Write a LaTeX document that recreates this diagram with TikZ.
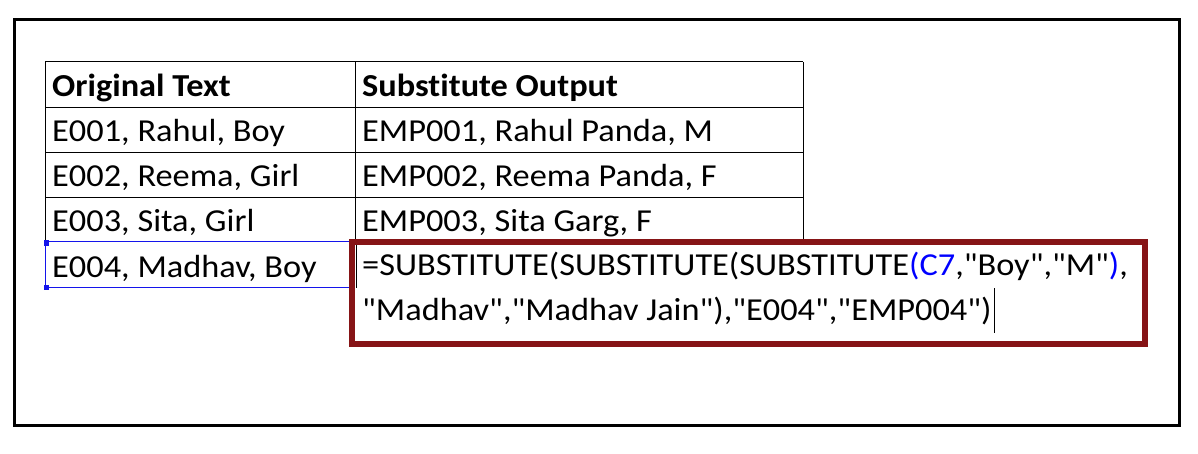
\documentclass[tikz,border=0pt]{standalone}
\usepackage{fontspec}
\newfontfamily\calfont{Carlito}[FakeStretch=1.073,Ligatures=CommonOff]
\definecolor{boxred}{RGB}{134,20,22}
\definecolor{selblue}{RGB}{20,20,235}
\begin{document}
\begin{tikzpicture}[x=1pt,y=-1pt,
  cell/.style={anchor=base west,inner sep=0pt,font=\calfont\fontsize{32}{38}\selectfont},
  head/.style={cell,font=\calfont\fontsize{32}{38}\selectfont\bfseries},
  grid/.style={line width=1pt,black},
  frame/.style={line width=3pt,black},
  redbox/.style={line width=6pt,boxred}]
\useasboundingbox (0,0) rectangle (1198,454);
\fill[white] (0,0) rectangle (1198,454);
% outer frame
\draw[frame] (14,20) rectangle (1179,425);
% table grid
\draw[grid] (45,62) -- (803,62);
\draw[grid] (45,108) -- (803,108);
\draw[grid] (45,153) -- (803,153);
\draw[grid] (45,198) -- (803,198);
\draw[grid] (45,62) -- (45,242);
\draw[grid] (355,62) -- (355,242);
\draw[grid] (803,62) -- (803,242);
\draw[grid] (356,245) -- (356,288);
% selection of E004 cell
\draw[line width=1pt,selblue] (45,242) -- (350,242);
\draw[line width=1pt,selblue] (45,287) -- (350,287);
\draw[line width=1pt,selblue] (45,242) -- (45,287);
\fill[selblue] (43.5,240.5) rectangle (48.5,245.5);
\fill[selblue] (43.5,284.5) rectangle (48.5,289.5);
% texts
\node[head] (h1) at (52,97) {Original Text};
\node[head] (h2) at (362,97) {Substitute Output};
\node[cell] (a1) at (52,142) {E001, Rahul, Boy};
\node[cell] (b1) at (362,142) {EMP001, Rahul Panda, M};
\node[cell] (a2) at (52,187) {E002, Reema, Girl};
\node[cell] (b2) at (362,187) {EMP002, Reema Panda, F};
\node[cell] (a3) at (52,232) {E003, Sita, Girl};
\node[cell] (b3) at (362,232) {EMP003, Sita Garg, F};
\node[cell] (a4) at (52,277) {E004, Madhav, Boy};
% formula box
\draw[redbox] (352,242) rectangle (1145,343.5);
\node[cell] (f1) at (362,275) {=SUBSTITUTE(SUBSTITUTE(SUBSTITUTE{\color{blue}(C7},"Boy","M"{\color{blue})},};
\node[cell] (f2) at (362,320) {"Madhav","Madhav Jain"),"E004","EMP004")};
\draw[line width=1pt] ([xshift=3pt]f2.base east) ++(0,-32) coordinate (cur1) -- ++(0,45) coordinate (cur2);
\end{tikzpicture}
\end{document}
